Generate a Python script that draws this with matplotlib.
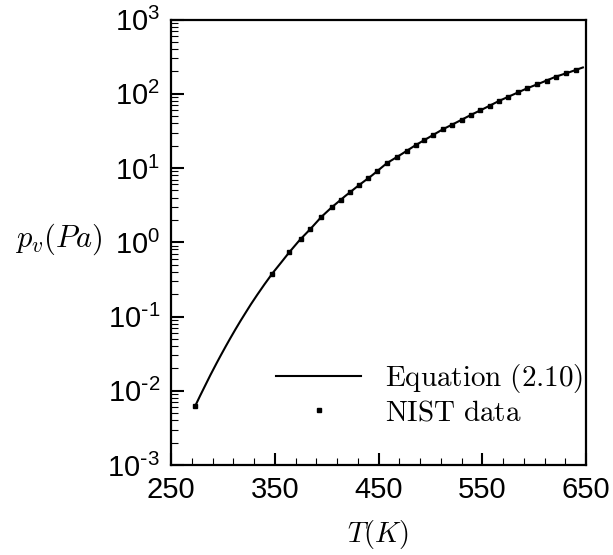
import math
import matplotlib
matplotlib.use("Agg")
import matplotlib.pyplot as plt
from matplotlib.ticker import FixedLocator, FuncFormatter, LogLocator, NullFormatter

plt.rcParams['font.family'] = ['Liberation Sans', 'DejaVu Sans']
plt.rcParams['axes.unicode_minus'] = False

# Equation (2.10) curve
T_eq = [273, 278, 283, 288, 294, 298, 303, 307, 312, 317, 322, 327, 333, 340, 348, 356, 364, 374,
        384, 395, 405, 418, 431, 444, 458, 472, 486, 499, 512, 525, 539, 552, 566, 580, 593, 607,
        621, 634, 647]
p_eq = [0.0061, 0.00853, 0.0118, 0.0163, 0.0236, 0.0300, 0.0402, 0.0505, 0.0667, 0.0873, 0.113,
        0.146, 0.195, 0.270, 0.385, 0.53, 0.733, 1.07, 1.49, 2.2, 2.96, 4.2, 5.85, 8.0, 11.6, 15.3,
        20.4, 26.0, 33.2, 41.0, 51.8, 63.5, 79.8, 97.7, 118, 141, 170, 195, 226]

# NIST data points
T_nist = [273, 347, 364, 375, 384, 395, 405, 414, 423, 431, 440, 449, 458, 468, 477, 486, 494,
          503, 512, 521, 530, 539, 548, 557, 566, 575, 584, 593, 603, 612, 621, 631, 640]
p_nist = [0.0063, 0.37, 0.73, 1.10, 1.49, 2.2, 2.96, 3.7, 4.8, 5.85, 7.3, 9.2, 11.6, 13.9, 17.1,
          20.4, 24.0, 28.1, 33.2, 38.5, 44.3, 51.8, 60.4, 69.0, 79.8, 91.2, 104, 118, 134, 150,
          170, 188, 209]

x_ticks = [250, 350, 450, 550, 650]

fig = plt.figure(figsize=(6.13, 5.55), dpi=100)
ax = fig.add_axes([171/613, 1-465/555, (586-171)/613, (465-19.5)/555])

ax.plot(T_eq, p_eq, color='black', lw=1.5, label=r'$\mathrm{Equation\ (2.10)}$')
ax.plot(T_nist, p_nist, ls='none', marker='s', ms=3.5, color='black', label=r'$\mathrm{NIST\ data}$')

ax.set_yscale('log')
ax.set_xlim(250, 650)
ax.set_ylim(1e-3, 1e3)


def fmt(v, pos):
    e = round(math.log10(v))
    if e < 0:
        return r'$\mathregular{10^{\text{-}%d}}$' % (-e)
    return r'$\mathregular{10^{%d}}$' % e


ax.xaxis.set_major_locator(FixedLocator(x_ticks))
ax.xaxis.set_minor_locator(FixedLocator([v for v in range(250, 651, 20) if v not in x_ticks]))
ax.yaxis.set_major_locator(LogLocator(base=10, numticks=20))
ax.yaxis.set_minor_locator(LogLocator(base=10, subs=range(2, 10), numticks=20))
ax.yaxis.set_minor_formatter(NullFormatter())
ax.yaxis.set_major_formatter(FuncFormatter(fmt))

ax.tick_params(which='both', direction='in', top=False, right=False, labelsize=21, colors='black')
ax.tick_params(which='major', length=9, width=1.5, pad=8)
ax.tick_params(which='minor', length=5, width=0.8)
for s in ax.spines.values():
    s.set_linewidth(1.6)

ax.set_xlabel(r'$T(K)$', fontsize=20.5, math_fontfamily='cm', labelpad=10)
ax.set_ylabel(r'$p_v(Pa)$', fontsize=22, math_fontfamily='cm', rotation=0)
ax.yaxis.set_label_coords(-0.272, 0.466)

leg = ax.legend(loc='lower right', bbox_to_anchor=(1.022, 0.06), frameon=False, fontsize=21,
                numpoints=1, handlelength=2.9, handletextpad=0.83, labelspacing=0.12,
                borderaxespad=0)
for t in leg.get_texts():
    t.set_math_fontfamily('cm')

fig.savefig('out.png', dpi=100)
